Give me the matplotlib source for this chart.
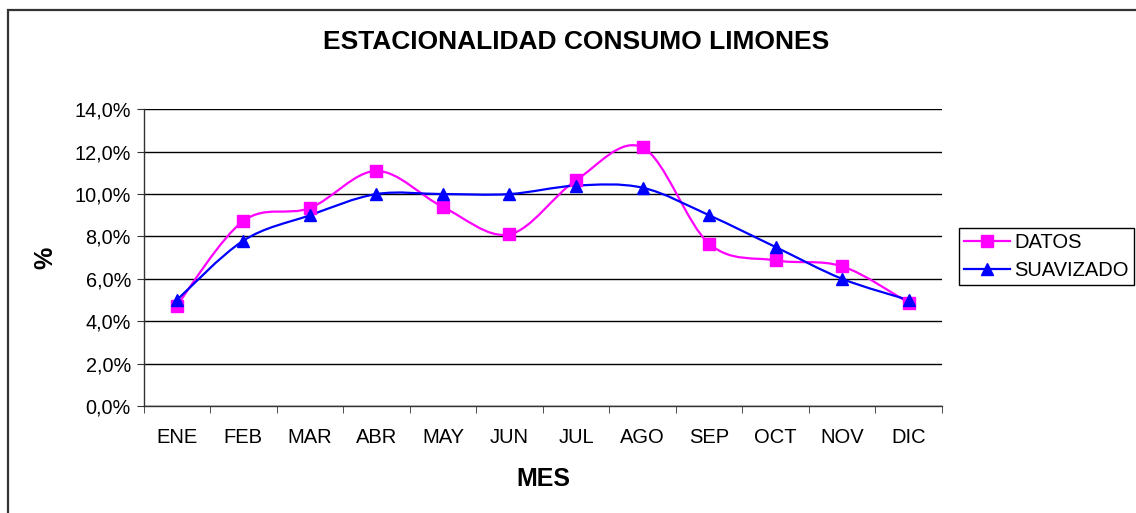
import numpy as np
import matplotlib
matplotlib.use('Agg')
import matplotlib.pyplot as plt
from matplotlib.path import Path
from matplotlib.patches import PathPatch, Rectangle
from matplotlib.lines import Line2D

'''
Estacionalidad del consumo de limones: datos mensuales y serie suavizada.
'''

#Data (% of yearly consumption)
meses = ['ENE', 'FEB', 'MAR', 'ABR', 'MAY', 'JUN', 'JUL', 'AGO', 'SEP', 'OCT', 'NOV', 'DIC']
datos = [4.74, 8.73, 9.34, 11.09, 9.39, 8.10, 10.65, 12.20, 7.66, 6.87, 6.59, 4.87]
suavizado = [5.0, 7.8, 9.0, 10.0, 10.0, 10.0, 10.4, 10.3, 9.0, 7.5, 6.0, 5.0]
yticks = [0, 2, 4, 6, 8, 10, 12, 14]

plt.rcParams['font.family'] = ['Liberation Sans', 'DejaVu Sans']

def smooth_path(x, y):
    """Excel style smoothed line: cubic bezier with catmull-rom control points"""
    pts = np.column_stack([x, y]).astype(float)
    n = len(pts)
    verts = [pts[0]]
    codes = [Path.MOVETO]
    for i in range(n - 1):
        p0 = pts[i - 1] if i > 0 else pts[i]
        p1 = pts[i]
        p2 = pts[i + 1]
        p3 = pts[i + 2] if i + 2 < n else pts[i + 1]
        c1 = p1 + (p2 - p0) / 6.0
        c2 = p2 - (p3 - p1) / 6.0
        verts += [c1, c2, p2]
        codes += [Path.CURVE4] * 3
    return Path(verts, codes)

W, H = 1136, 513
fig = plt.figure(figsize=(W / 100, H / 100), dpi=100)
ax = fig.add_axes([143.5 / W, 1 - 406 / H, (942 - 143.5) / W, (406 - 109.3) / H])

x = np.arange(len(meses))

#Smoothed lines plus markers
for serie, color, marker in [(datos, '#FF00FF', 's'), (suavizado, '#0000FF', '^')]:
    ax.add_patch(PathPatch(smooth_path(x, serie), facecolor='none', edgecolor=color, lw=1.6, zorder=3))
    ax.plot(x, serie, linestyle='none', marker=marker, color=color, markersize=9, zorder=4)

ax.set_xlim(-0.5, len(meses) - 0.5)
ax.set_ylim(0, 14)

#Axes and grid
ax.set_yticks(yticks)
ax.set_yticklabels([f'{v:.1f}%'.replace('.', ',') for v in yticks])
ax.yaxis.grid(True, color='black', lw=1)
ax.set_axisbelow(True)
for s in ['top', 'right']:
    ax.spines[s].set_visible(False)
for s in ['left', 'bottom']:
    ax.spines[s].set_color('#333333')
    ax.spines[s].set_linewidth(1)

ax.set_xticks(x)
ax.set_xticklabels(meses)
ax.set_xticks(np.arange(-0.5, len(meses)), minor=True)
ax.tick_params(axis='x', which='major', length=0, pad=16, labelsize=14.5)
ax.tick_params(axis='x', which='minor', length=5, color='#333333')
ax.tick_params(axis='y', length=5, pad=4, labelsize=14.3, color='#333333')

#Titles
fig.text(576 / W, 1 - 42 / H, 'ESTACIONALIDAD CONSUMO LIMONES', ha='center', va='center',
         fontsize=19, fontweight='bold')
fig.text(543 / W, 1 - 479 / H, 'MES', ha='center', va='center', fontsize=18, fontweight='bold')
fig.text(45 / W, 1 - 258 / H, '%', ha='center', va='center', fontsize=18, fontweight='bold', rotation=90)

#Legend
handles = [Line2D([], [], color='#FF00FF', marker='s', lw=1.6, markersize=9),
           Line2D([], [], color='#0000FF', marker='^', lw=1.6, markersize=9)]
leg = fig.legend(handles, ['DATOS', 'SUAVIZADO'], loc='upper left',
                 bbox_to_anchor=(959 / W, 1 - 228 / H), fontsize=14.5, frameon=True,
                 fancybox=False, edgecolor='black', framealpha=1, handlelength=2.3,
                 handletextpad=0.2, borderpad=0.25, labelspacing=0.45, borderaxespad=0)
leg.get_frame().set_linewidth(1)

#Chart area border
fig.patches.append(Rectangle((8 / W, 0 - 0.05), 1.2, 1 - 10 / H + 0.05, transform=fig.transFigure,
                             fill=False, edgecolor='#333333', lw=1.6))

fig.savefig('out.png', dpi=100)
